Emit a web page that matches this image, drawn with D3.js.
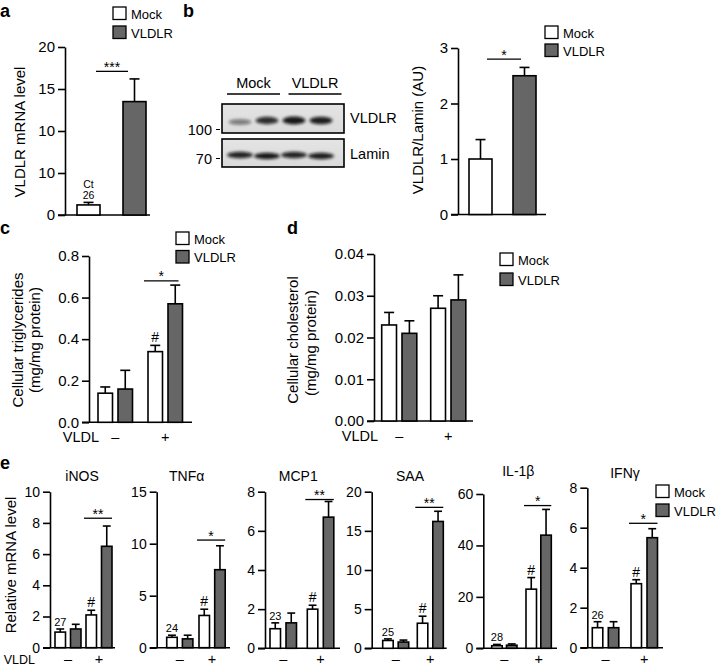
<!DOCTYPE html>
<html><head><meta charset="utf-8">
<script src="https://cdn.jsdelivr.net/npm/d3@7"></script>
<style>
body{margin:0;background:#fff}
svg{display:block}
</style>
</head><body>
<svg id="chart" width="718" height="667"></svg>
<script>
// ---------------- DATA ----------------
const groups = ["Mock", "VLDLR"];
const vldlLevels = ["–", "+"];

// panel a
const aMean = [1.2, 13.5];
const aSem = [0.3, 2.7];
const aTicks = [0, 5, 10, 15, 20];
const aTickLabels = ["0", "10", "10", "15", "20"];
const aSigLevel = 17.1, aStars = "***";
const aCt = ["Ct", "26"];

// panel b
const bMean = [1.0, 2.5];
const bSem = [0.35, 0.15];
const bTicks = [0, 1, 2, 3];
const bSigLevel = 2.8, bStars = "*";
const blotLanes = [0, 1, 2, 3];
const blotGroups = ["Mock", "VLDLR"];
const blotVLDLR = [0.5, 0.85, 0.95, 0.92];
const blotLamin = [0.9, 0.95, 0.9, 0.92];
const blotRows = ["VLDLR", "Lamin"];
const blotMarkers = ["100", "70"];

// panel c (index 0 = VLDL –, 1 = VLDL +)
const cMock = [0.14, 0.34];
const cMockSem = [0.03, 0.03];
const cVLDLR = [0.16, 0.57];
const cVLDLRSem = [0.09, 0.09];
const cTicks = [0, 0.2, 0.4, 0.6, 0.8];
const cSigLevel = 0.68, cStars = "*";

// panel d
const dMock = [0.023, 0.027];
const dMockSem = [0.003, 0.003];
const dVLDLR = [0.021, 0.029];
const dVLDLRSem = [0.003, 0.006];
const dTicks = [0, 0.01, 0.02, 0.03, 0.04];

// panel e
const eGenes = ["iNOS", "TNFα", "MCP1", "SAA", "IL-1β", "IFNγ"];
const eCt = ["27", "24", "23", "25", "28", "26"];
const eMock = [[1.0, 2.1], [1.0, 3.1], [1.0, 2.0], [1.0, 3.2], [1.0, 23], [1.0, 3.2]];
const eMockSem = [[0.2, 0.3], [0.2, 0.6], [0.3, 0.2], [0.2, 0.9], [0.5, 4.5], [0.3, 0.2]];
const eVLDLR = [[1.2, 6.5], [0.85, 7.5], [1.3, 6.7], [0.8, 16.2], [1.2, 44], [1.0, 5.5]];
const eVLDLRSem = [[0.3, 1.3], [0.35, 2.3], [0.5, 0.8], [0.25, 1.3], [0.5, 10], [0.3, 0.45]];
const eTicks = [[0, 2, 4, 6, 8, 10], [0, 5, 10, 15], [0, 2, 4, 6, 8], [0, 5, 10, 15, 20], [0, 20, 40, 60], [0, 2, 4, 6, 8]];
const eStars = ["**", "*", "**", "**", "*", "*"];
const eSigLevel = [8.3, 10.35, 7.6, 18.0, 55.5, 6.22];

// ---------------- STYLE ----------------
const FONT = '"Liberation Sans", Arial, Helvetica, sans-serif';
const GRAY = "#666666";
const fills = { Mock: "#ffffff", VLDLR: GRAY };
const SW = 1.6;

const svg = d3.select("#chart");

function txt(g, x, y, s, opt = {}) {
  const t = g.append("text").attr("x", x).attr("y", y).text(s)
    .attr("font-family", FONT).attr("font-size", opt.fs || 14)
    .attr("fill", "#000").attr("text-anchor", opt.anchor || "start");
  if (opt.bold) t.attr("font-weight", "bold");
  if (opt.rotate) t.attr("transform", `rotate(-90,${x},${y})`);
  return t;
}

function yAxis(y, x, ticks, fmt, fs) {
  const ax = d3.axisLeft(y).tickValues(ticks).tickSizeInner(7).tickSizeOuter(0).tickPadding(3).tickFormat(fmt);
  const a = svg.append("g").attr("transform", `translate(${x},0)`).call(ax);
  a.select(".domain").attr("stroke", "#000").attr("stroke-width", SW);
  a.selectAll(".tick line").attr("stroke", "#000").attr("stroke-width", SW);
  a.selectAll(".tick text").attr("font-size", fs).attr("font-family", FONT).attr("fill", "#000");
  return a;
}

function xLine(y, x0, x1) {
  svg.append("line").attr("x1", x0).attr("x2", x1).attr("y1", y(0)).attr("y2", y(0))
    .attr("stroke", "#000").attr("stroke-width", SW);
}

// draws one bar + one-sided error bar; returns error top pixel
function bar(y, x, w, mean, sem, fill) {
  svg.append("rect").attr("x", x).attr("y", y(mean)).attr("width", w)
    .attr("height", y(0) - y(mean)).attr("fill", fill).attr("stroke", "#000").attr("stroke-width", SW);
  const cx = x + w / 2, cap = Math.min(10, w * 0.75);
  svg.append("line").attr("x1", cx).attr("x2", cx).attr("y1", y(mean)).attr("y2", y(mean + sem))
    .attr("stroke", "#000").attr("stroke-width", SW);
  svg.append("line").attr("x1", cx - cap / 2).attr("x2", cx + cap / 2).attr("y1", y(mean + sem)).attr("y2", y(mean + sem))
    .attr("stroke", "#000").attr("stroke-width", SW);
  return y(mean + sem);
}

function sig(y, level, x0, x1, stars, fs) {
  const py = y(level);
  svg.append("line").attr("x1", x0).attr("x2", x1).attr("y1", py).attr("y2", py)
    .attr("stroke", "#000").attr("stroke-width", 1.3);
  txt(svg, (x0 + x1) / 2, py + 0.5, stars, { fs: fs || 14, anchor: "middle" });
}

function legend(x, y0, dy, fs) {
  groups.forEach((gname, i) => {
    svg.append("rect").attr("x", x).attr("y", y0 + i * dy).attr("width", 13).attr("height", 12.5)
      .attr("fill", fills[gname]).attr("stroke", "#000").attr("stroke-width", 1.3);
    txt(svg, x + 18, y0 + i * dy + 11.5, gname, { fs: fs || 13 });
  });
}

// ---------------- PANEL LETTERS ----------------
txt(svg, 0, 17, "a", { fs: 18, bold: true });
txt(svg, 183, 17, "b", { fs: 18, bold: true });
txt(svg, 0, 234, "c", { fs: 18, bold: true });
txt(svg, 287, 234, "d", { fs: 18, bold: true });
txt(svg, 0, 469, "e", { fs: 18, bold: true });

// ---------------- PANEL a ----------------
{
  const y = d3.scaleLinear().domain([0, 20]).range([215, 47]);
  const x = d3.scalePoint().domain(groups).range([77, 123]);
  const w = 23;
  yAxis(y, 65, aTicks, (d, i) => aTickLabels[i], 15);
  xLine(y, 58, 150);
  const tops = groups.map((gname, i) => bar(y, x(gname), w, aMean[i], aSem[i], fills[gname]));
  txt(svg, x("Mock") + w / 2, tops[0] - 14.5, aCt[0], { fs: 10.5, anchor: "middle" });
  txt(svg, x("Mock") + w / 2, tops[0] - 3.5, aCt[1], { fs: 10.5, anchor: "middle" });
  sig(y, aSigLevel, 96, 128, aStars);
  txt(svg, 25, 132, "VLDLR mRNA level", { fs: 15, anchor: "middle", rotate: true });
  legend(113, 7, 19);
}

// ---------------- PANEL b (blot) ----------------
{
  const defs = svg.append("defs");
  defs.append("filter").attr("id", "blur").attr("x", "-50%").attr("y", "-100%").attr("width", "200%").attr("height", "300%")
    .append("feGaussianBlur").attr("stdDeviation", 1.4);
  const gr = defs.append("linearGradient").attr("id", "blotbg").attr("x1", 0).attr("x2", 0).attr("y1", 0).attr("y2", 1);
  gr.append("stop").attr("offset", 0).attr("stop-color", "#e4e4e4");
  gr.append("stop").attr("offset", 1).attr("stop-color", "#dadada");

  const lx = d3.scalePoint().domain(blotLanes).range([240, 321]);
  const boxes = [{ y0: 104, y1: 133, vals: blotVLDLR, by: 120.5, rx: 11.5 }, { y0: 139, y1: 167, vals: blotLamin, by: 155.5, rx: 13 }];
  boxes.forEach((b, bi) => {
    svg.append("rect").attr("x", 222).attr("y", b.y0).attr("width", 122).attr("height", b.y1 - b.y0)
      .attr("fill", "url(#blotbg)");
    const gb = svg.append("g").attr("filter", "url(#blur)");
    blotLanes.forEach((l, i) => {
      const v = b.vals[i];
      gb.append("ellipse").attr("cx", lx(l)).attr("cy", b.by + (bi === 0 && i === 0 ? 1.5 : 0) + (bi === 1 ? (i % 2 ? 0.5 : -0.5) : 0))
        .attr("rx", b.rx).attr("ry", bi === 0 ? 1.6 + 2.4 * v : 3.2)
        .attr("fill", "#111").attr("opacity", v);
    });
    svg.append("rect").attr("x", 222).attr("y", b.y0).attr("width", 122).attr("height", b.y1 - b.y0)
      .attr("fill", "none").attr("stroke", "#000").attr("stroke-width", SW);
    txt(svg, 350, b.y0 + (bi === 0 ? 19 : 20), blotRows[bi], { fs: 14.5 });
    txt(svg, 212, bi === 0 ? 134.5 : 163.5, blotMarkers[bi], { fs: 14.5, anchor: "end" });
    svg.append("line").attr("x1", 216).attr("x2", 220).attr("y1", bi === 0 ? 129.5 : 158.5).attr("y2", bi === 0 ? 129.5 : 158.5)
      .attr("stroke", "#000").attr("stroke-width", 1);
  });
  const gx = d3.scalePoint().domain(blotGroups).range([253.5, 315]);
  blotGroups.forEach(gname => {
    txt(svg, gx(gname), 88, gname, { fs: 14.5, anchor: "middle" });
    svg.append("line").attr("x1", gx(gname) - 26.5).attr("x2", gx(gname) + 26.5).attr("y1", 94).attr("y2", 94)
      .attr("stroke", "#000").attr("stroke-width", SW);
  });
}

// ---------------- PANEL b (bars) ----------------
{
  const y = d3.scaleLinear().domain([0, 3]).range([214.5, 48]);
  const x = d3.scalePoint().domain(groups).range([469, 513]);
  const w = 23;
  yAxis(y, 458, bTicks, d3.format("d"), 15);
  xLine(y, 451, 546);
  groups.forEach((gname, i) => bar(y, x(gname), w, bMean[i], bSem[i], fills[gname]));
  sig(y, bSigLevel, 487, 521, bStars);
  txt(svg, 423, 130, "VLDLR/Lamin (AU)", { fs: 15, anchor: "middle", rotate: true });
  legend(545, 26, 18);
}

// ---------------- PANEL c ----------------
function groupedPanel(cfg) {
  const y = d3.scaleLinear().domain(cfg.domain).range(cfg.range);
  const xg = d3.scalePoint().domain(vldlLevels).range([cfg.x0, cfg.x0 + cfg.gstep]);
  const xs = d3.scalePoint().domain(groups).range([0, cfg.sstep]);
  yAxis(y, cfg.axisX, cfg.ticks, cfg.fmt, cfg.tickFs);
  xLine(y, cfg.axisX - 7, cfg.xEnd);
  const tops = {};
  vldlLevels.forEach((v, vi) => {
    groups.forEach(gname => {
      const m = gname === "Mock" ? cfg.mock[vi] : cfg.vldlr[vi];
      const s = gname === "Mock" ? cfg.mockSem[vi] : cfg.vldlrSem[vi];
      tops[gname + vi] = bar(y, xg(v) + xs(gname), cfg.w, m, s, fills[gname]);
    });
  });
  return { y, xg, xs, tops };
}

{
  const cfg = { domain: [0, 0.8], range: [422.3, 256], x0: 98, gstep: 50, sstep: 20, w: 14.5, axisX: 89, xEnd: 192,
    ticks: cTicks, fmt: d3.format(".1f"), tickFs: 15, mock: cMock, mockSem: cMockSem, vldlr: cVLDLR, vldlrSem: cVLDLRSem };
  const p = groupedPanel(cfg);
  const mx = p.xg("+") + p.xs("Mock");
  txt(svg, mx + cfg.w / 2, p.tops["Mock1"] - 3, "#", { fs: 14, anchor: "middle" });
  sig(p.y, cSigLevel, mx - 4, p.xg("+") + p.xs("VLDLR") + cfg.w - 4, cStars);
  txt(svg, 99, 442, "VLDL", { fs: 14.5, anchor: "end" });
  vldlLevels.forEach(v => txt(svg, p.xg(v) + (cfg.sstep + cfg.w) / 2, 442, v, { fs: 14.5, anchor: "middle" }));
  txt(svg, 23, 340, "Cellular triglycerides", { fs: 15, anchor: "middle", rotate: true });
  txt(svg, 39.5, 340, "(mg/mg protein)", { fs: 15, anchor: "middle", rotate: true });
  legend(176, 232, 18.5);
}

// ---------------- PANEL d ----------------
{
  const cfg = { domain: [0, 0.04], range: [421, 254], x0: 381.7, gstep: 49, sstep: 20.3, w: 14.8, axisX: 374, xEnd: 473,
    ticks: dTicks, fmt: d3.format(".2f"), tickFs: 15, mock: dMock, mockSem: dMockSem, vldlr: dVLDLR, vldlrSem: dVLDLRSem };
  const p = groupedPanel(cfg);
  txt(svg, 378, 441, "VLDL", { fs: 14.5, anchor: "end" });
  vldlLevels.forEach(v => txt(svg, p.xg(v) + (cfg.sstep + cfg.w) / 2, 441, v, { fs: 14.5, anchor: "middle" }));
  txt(svg, 298, 340, "Cellular cholesterol", { fs: 15, anchor: "middle", rotate: true });
  txt(svg, 316, 343, "(mg/mg protein)", { fs: 15, anchor: "middle", rotate: true });
  legend(500, 253, 20);
}

// ---------------- PANEL e ----------------
const eLayout = [
  { axisX: 50, top: 491.7, bot: 647.7, x0: 55, gstep: 31, sstep: 15.5, xEnd: 115, tx: 82, ty: 481 },
  { axisX: 156.7, top: 491.7, bot: 647.7, x0: 166.7, gstep: 32.3, sstep: 15.7, xEnd: 230, tx: 186.7, ty: 481 },
  { axisX: 265, top: 491.7, bot: 648.3, x0: 270, gstep: 37.3, sstep: 16, xEnd: 340, tx: 298.3, ty: 481 },
  { axisX: 371.7, top: 491.7, bot: 648.3, x0: 382.7, gstep: 34.6, sstep: 15.5, xEnd: 446.7, tx: 410, ty: 481 },
  { axisX: 483.3, top: 494, bot: 648.3, x0: 491.7, gstep: 34.3, sstep: 14.8, xEnd: 557, tx: 518.3, ty: 476 },
  { axisX: 587.3, top: 487.7, bot: 647.7, x0: 592.3, gstep: 38.7, sstep: 16, xEnd: 663, tx: 625, ty: 478 }
];
eGenes.forEach((gene, gi) => {
  const L = eLayout[gi];
  const t = eTicks[gi];
  const cfg = { domain: [0, t[t.length - 1]], range: [L.bot, L.top], x0: L.x0, gstep: L.gstep, sstep: L.sstep, w: 10.5,
    axisX: L.axisX, xEnd: L.xEnd, ticks: t, fmt: d3.format("d"), tickFs: 14,
    mock: eMock[gi], mockSem: eMockSem[gi], vldlr: eVLDLR[gi], vldlrSem: eVLDLRSem[gi] };
  const p = groupedPanel(cfg);
  txt(svg, L.tx, L.ty, gene, { fs: 14, anchor: "middle" });
  const m0 = p.xg("–") + p.xs("Mock");
  txt(svg, m0 + cfg.w / 2, p.tops["Mock0"] - 3, eCt[gi], { fs: 11, anchor: "middle" });
  const m1 = p.xg("+") + p.xs("Mock");
  txt(svg, m1 + cfg.w / 2, p.tops["Mock1"] - 3, "#", { fs: 14, anchor: "middle" });
  sig(p.y, eSigLevel[gi], m1 - 2, p.xg("+") + p.xs("VLDLR") + cfg.w, eStars[gi]);
  vldlLevels.forEach(v => txt(svg, p.xg(v) + (cfg.sstep + cfg.w) / 2, 664, v, { fs: 14.5, anchor: "middle" }));
});
txt(svg, 35, 664.3, "VLDL", { fs: 12.5, anchor: "end" });
txt(svg, 16, 565, "Relative mRNA level", { fs: 15, anchor: "middle", rotate: true });
legend(656, 485, 19);
</script>
</body></html>
